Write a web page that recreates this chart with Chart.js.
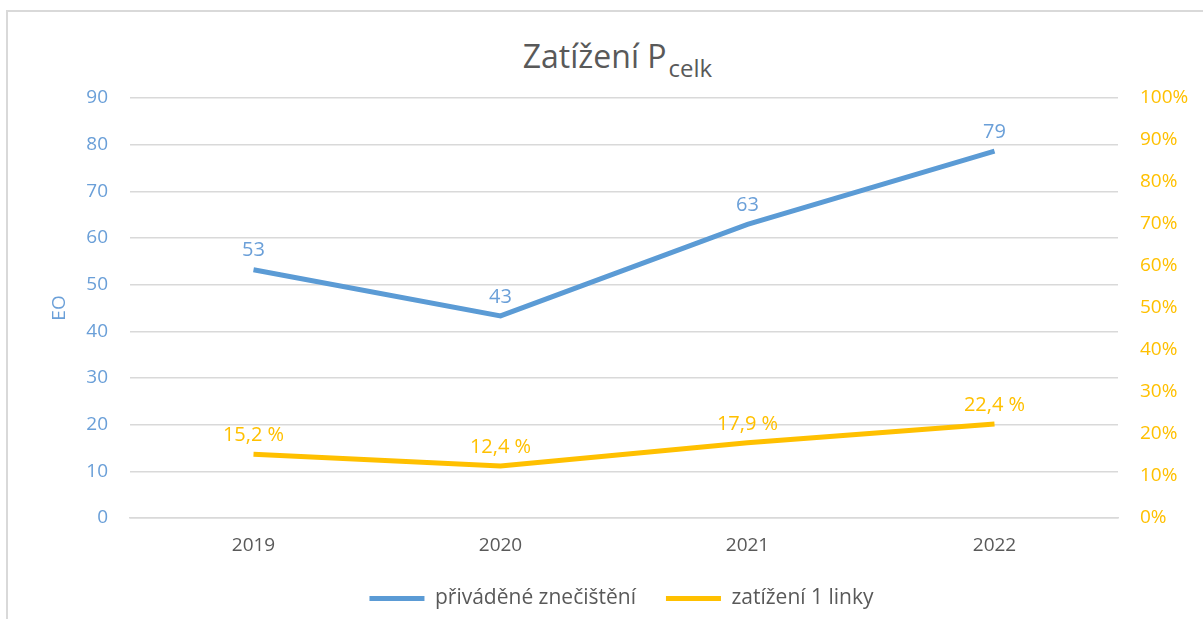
<!DOCTYPE html>
<html>
<head>
<meta charset="utf-8">
<script src="https://cdn.jsdelivr.net/npm/chart.js@4.4.1/dist/chart.umd.min.js"></script>
<style>
  html, body { margin: 0; padding: 0; background: #fff; }
  #wrap { position: relative; width: 1203px; height: 619px; overflow: hidden; }
  #frame { position: absolute; left: 6px; top: 10px; width: 1300px; height: 700px; border-left: 2px solid #D9D9D9; border-top: 2px solid #D9D9D9; box-sizing: border-box; }
  #title { position: absolute; top: 34px; left: 0; width: 1235px; text-align: center; font-family: "Open Sans", sans-serif; font-size: 32px; color: #595959; }
  #title sub { font-size: 24px; vertical-align: -9px; margin-left: 2px; }
  canvas { position: absolute; left: 0; top: 0; }
</style>
</head>
<body>
<div id="wrap">
  <div id="frame"></div>
  <div id="title">Zatížení P<sub>celk</sub></div>
  <canvas id="c" width="1203" height="619"></canvas>
</div>
<script>
const categories = ["2019", "2020", "2021", "2022"];
const privadeneZnecisteni = [53.2, 43.3, 62.9, 78.6];
const zatizeni1Linky = [15.2, 12.4, 17.9, 22.4];
const leftTicks = [0, 10, 20, 30, 40, 50, 60, 70, 80, 90];
const rightTicks = [0, 10, 20, 30, 40, 50, 60, 70, 80, 90, 100];

const BLUE = "#5B9BD5";
const YELLOW = "#FFC000";
const FONT = "'Open Sans', sans-serif";

const labelPlugin = {
  id: "pointLabels",
  afterDatasetsDraw(chart) {
    const ctx = chart.ctx;
    ctx.save();
    ctx.font = "20px " + FONT;
    ctx.textAlign = "center";
    ctx.textBaseline = "middle";
    chart.data.datasets.forEach((ds, i) => {
      const meta = chart.getDatasetMeta(i);
      ctx.fillStyle = ds.labelColor;
      meta.data.forEach((pt, j) => {
        ctx.fillText(ds.formatLabel(ds.data[j]), pt.x, pt.y - 19);
      });
    });
    ctx.restore();
  }
};

new Chart(document.getElementById("c"), {
  type: "line",
  data: {
    labels: categories,
    datasets: [
      {
        label: "přiváděné znečištění",
        data: privadeneZnecisteni,
        borderColor: BLUE,
        backgroundColor: BLUE,
        borderWidth: 5,
        pointRadius: 0,
        tension: 0,
        yAxisID: "y",
        labelColor: "#6A9FD8",
        formatLabel: v => String(Math.round(v))
      },
      {
        label: "zatížení 1 linky",
        data: zatizeni1Linky,
        borderColor: YELLOW,
        backgroundColor: YELLOW,
        borderWidth: 5,
        pointRadius: 0,
        tension: 0,
        yAxisID: "y1",
        labelColor: YELLOW,
        formatLabel: v => v.toFixed(1).replace(".", ",") + " %"
      }
    ]
  },
  options: {
    responsive: false,
    animation: false,
    layout: { padding: { left: 40, right: 0, top: 98, bottom: 0 } },
    plugins: {
      title: { display: false },
      tooltip: { enabled: false },
      legend: {
        position: "bottom",
        labels: {
          font: { family: FONT, size: 21 },
          color: "#595959",
          boxWidth: 55,
          boxHeight: 5,
          padding: 30,
          generateLabels(chart) {
            return chart.data.datasets.map((ds, i) => ({
              text: ds.label,
              fillStyle: ds.borderColor,
              strokeStyle: ds.borderColor,
              lineWidth: 0,
              fontColor: "#595959",
              hidden: false,
              datasetIndex: i
            }));
          }
        }
      }
    },
    scales: {
      x: {
        offset: true,
        grid: { display: false, drawTicks: false },
        border: { display: true, color: "#D9D9D9", width: 1.5 },
        ticks: { font: { family: FONT, size: 19 }, color: "#595959", padding: 16 },
        afterFit(scale) { scale.height = 40; }
      },
      y: {
        position: "left",
        min: 0,
        max: 90,
        afterBuildTicks(scale) { scale.ticks = leftTicks.map(v => ({ value: v })); },
        afterFit(scale) { scale.width = 90; },
        grid: { color: "#D9D9D9", lineWidth: 1.5, drawTicks: false },
        border: { display: false },
        ticks: { font: { family: FONT, size: 19 }, color: "#6A9FD8", padding: 22 },
        title: { display: true, text: "EO", color: "#6A9FD8", font: { family: FONT, size: 19 }, padding: { top: 8, bottom: 0 } }
      },
      y1: {
        position: "right",
        min: 0,
        max: 100,
        afterBuildTicks(scale) { scale.ticks = rightTicks.map(v => ({ value: v })); },
        afterFit(scale) { scale.width = 85; },
        grid: { display: false, drawTicks: false },
        border: { display: false },
        ticks: { font: { family: FONT, size: 19 }, color: YELLOW, padding: 22, callback: v => v + "%" }
      }
    }
  },
  plugins: [labelPlugin]
});
</script>
</body>
</html>
